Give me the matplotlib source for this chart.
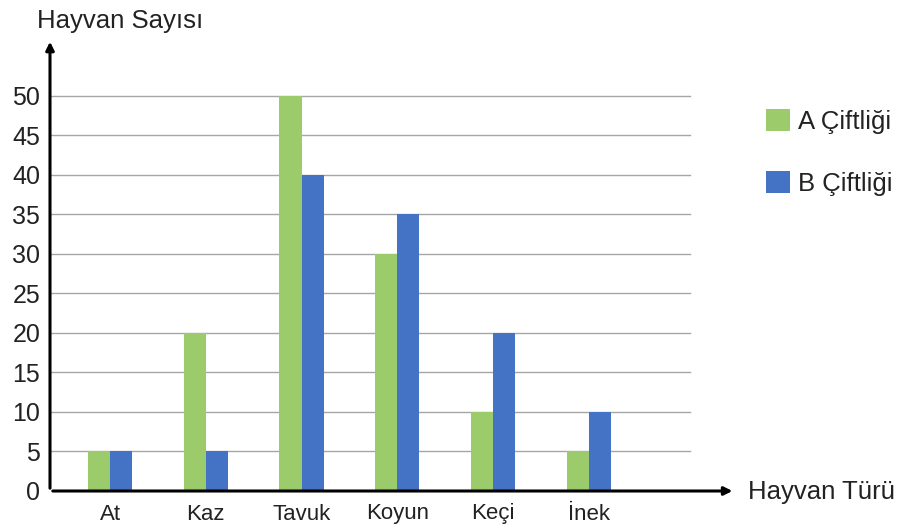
import matplotlib.pyplot as plt
import numpy as np
from matplotlib.patches import Patch

plt.rcParams['font.family'] = ['Liberation Sans', 'DejaVu Sans']

hayvanlar = ['At', 'Kaz', 'Tavuk', 'Koyun', 'Keçi', 'İnek']
a_ciftligi = [5, 20, 50, 30, 10, 5]
b_ciftligi = [5, 5, 40, 35, 20, 10]
y_ticks = [0, 5, 10, 15, 20, 25, 30, 35, 40, 45, 50]

green = '#9BCB6A'
blue = '#4472C4'
text_color = '#222222'


def create_chart():
    fig = plt.figure(figsize=(9.01, 5.26), dpi=100)
    ax = fig.add_axes([50 / 901, 35 / 526, 690 / 901, 456 / 526])

    x = np.arange(len(hayvanlar))
    w = 0.23
    ax.bar(x - w / 2, a_ciftligi, w, color=green, zorder=3)
    ax.bar(x + w / 2, b_ciftligi, w, color=blue, zorder=3)

    x0 = -0.627
    ax.set_xlim(x0, 6.58)
    ax.set_ylim(0, 57.7)

    # grid lines stop before the arrow head
    for t in y_ticks[1:]:
        ax.plot([x0, 6.06], [t, t], color='#a6a6a6', linewidth=1, zorder=1)

    for s in ax.spines.values():
        s.set_visible(False)

    arrow = dict(arrowstyle='-|>', color='black', lw=2.2, mutation_scale=12)
    ax.annotate('', xy=(6.53, 0), xytext=(x0, 0), arrowprops=arrow,
                annotation_clip=False, zorder=5)
    ax.annotate('', xy=(x0, 57.2), xytext=(x0, 0), arrowprops=arrow,
                annotation_clip=False, zorder=5)

    ax.set_xticks(x)
    ax.set_xticklabels(hayvanlar, fontsize=16, color=text_color)
    ax.set_yticks(y_ticks)
    ax.set_yticklabels([str(t) for t in y_ticks], fontsize=18, color=text_color)
    ax.tick_params(axis='both', length=0)
    ax.tick_params(axis='y', pad=7)
    ax.tick_params(axis='x', pad=9)

    fig.text(37 / 901, 1 - 28 / 526, 'Hayvan Sayısı', fontsize=18.5, color=text_color,
             ha='left', va='baseline')
    fig.text(748 / 901, 1 - 499 / 526, 'Hayvan Türü', fontsize=18.5, color=text_color,
             ha='left', va='baseline')

    handles = [Patch(facecolor=green, label='A Çiftliği'),
               Patch(facecolor=blue, label='B Çiftliği')]
    fig.legend(handles=handles, loc='upper left', bbox_to_anchor=(766 / 901, 1 - 109 / 526),
               frameon=False, fontsize=18.5, handlelength=0.93, handleheight=0.93,
               labelspacing=1.45, handletextpad=0.3, borderpad=0, borderaxespad=0,
               labelcolor=text_color)

    plt.savefig('out.png', dpi=100)


if __name__ == "__main__":
    create_chart()
